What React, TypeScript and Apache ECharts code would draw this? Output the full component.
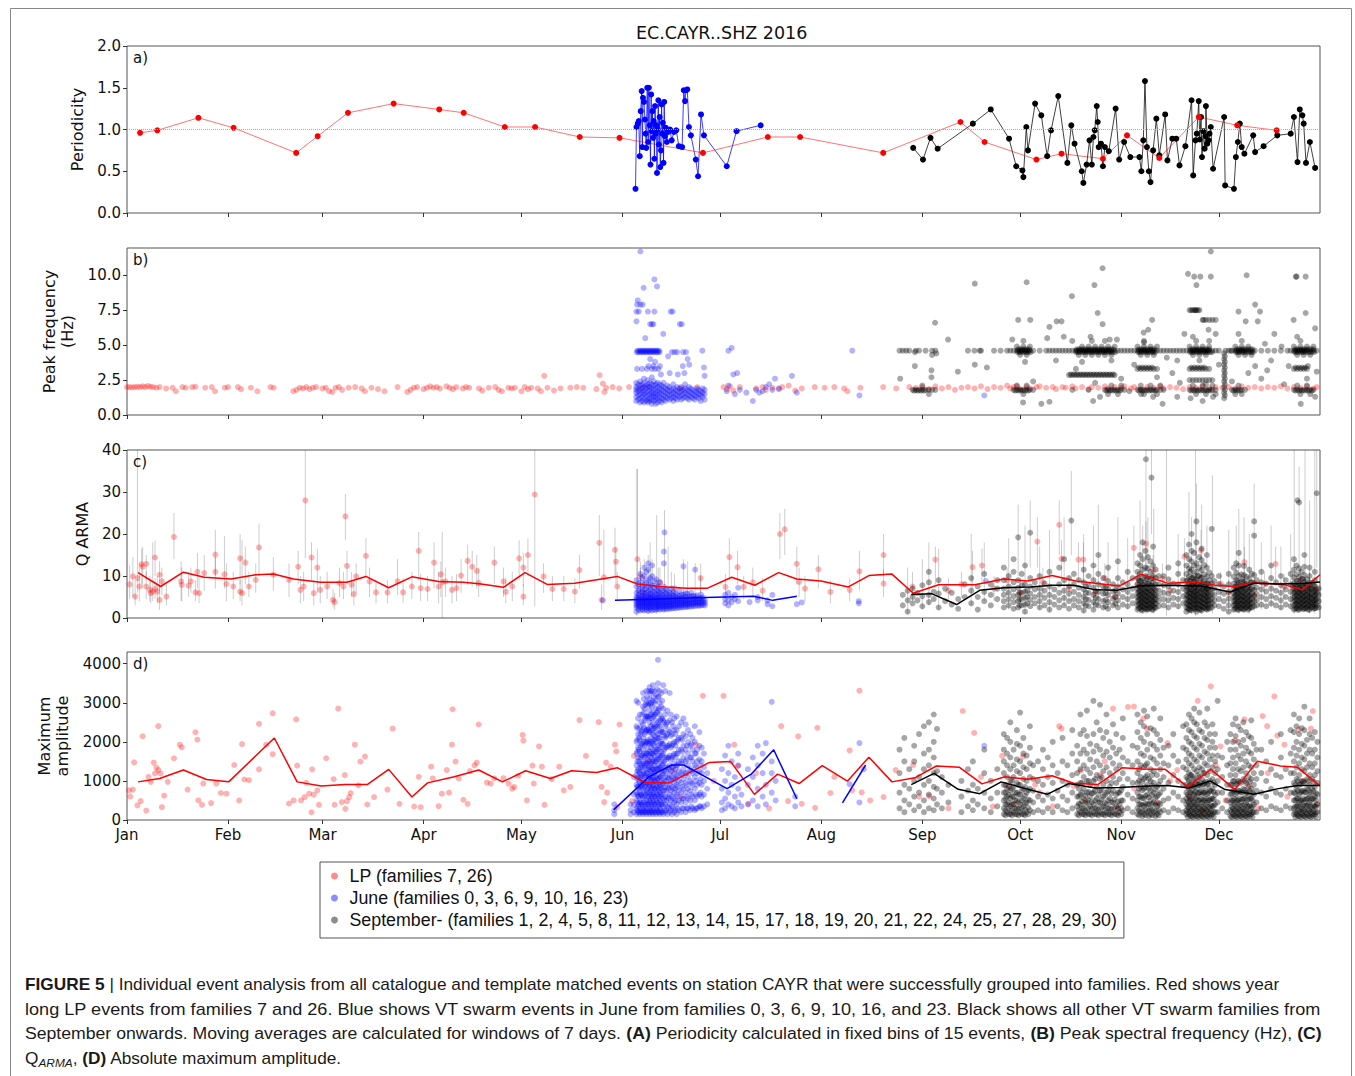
import React, { useEffect, useRef } from "react";
import * as echarts from "echarts";

// ---------- axes ----------
const MONTHS = ["Jan", "Feb", "Mar", "Apr", "May", "Jun", "Jul", "Aug", "Sep", "Oct", "Nov", "Dec"];
const DAY_TICKS = [0, 31, 60, 91, 121, 152, 182, 213, 244, 274, 305, 335];
const A_TICKS = [0, 0.5, 1, 1.5, 2];
const B_TICKS = [0, 2.5, 5, 7.5, 10];
const C_TICKS = [0, 10, 20, 30, 40];
const D_TICKS = [0, 1000, 2000, 3000, 4000];

const LP = "LP (families 7, 26)";
const JUNE = "June (families 0, 3, 6, 9, 10, 16, 23)";
const SEPT = "September- (families 1, 2, 4, 5, 8, 11, 12, 13, 14, 15, 17, 18, 19, 20, 21, 22, 24, 25, 27, 28, 29, 30)";

// ---------- panel a: periodicity ----------
const aRed = [[4.0,0.96],[9.3,0.99],[21.9,1.14],[32.7,1.02],[51.9,0.72],[58.5,0.92],[67.8,1.2],[81.8,1.31],[95.8,1.24],[103.3,1.2],[115.9,1.03],[125.2,1.03],[138.9,0.91],[151.1,0.9],[176.7,0.72],[196.6,0.91],[206.5,0.91],[232,0.72],[255.7,1.09],[263.1,0.85],[279,0.64],[286.7,0.71],[299.4,0.65],[306.8,0.93],[316.7,0.66],[328.8,1.15],[340.6,1.05],[352.7,0.99]];
const aBlue = [[156.0,0.29],[156.3,1.03],[156.7,1.07],[157.0,1.10],[157.3,0.68],[157.6,1.22],[157.9,1.46],[158.1,0.79],[158.3,1.38],[158.6,1.33],[158.9,1.12],[159.1,0.95],[159.3,0.78],[159.6,1.50],[159.9,0.85],[160.1,1.50],[160.4,1.05],[160.6,0.58],[160.8,1.42],[161.0,0.98],[161.2,1.22],[161.4,0.90],[161.6,1.10],[161.8,0.65],[162.0,1.28],[162.2,0.95],[162.4,1.05],[162.6,0.48],[162.8,1.00],[163.0,1.35],[163.2,0.82],[163.4,1.15],[163.6,0.55],[163.8,0.75],[164.0,1.30],[164.2,0.95],[164.4,1.08],[164.6,0.60],[164.8,1.33],[165.0,0.92],[165.3,1.02],[165.6,0.85],[166.0,0.97],[166.6,1.00],[167.1,0.87],[167.8,0.97],[168.5,0.99],[169.3,0.80],[170.3,0.79],[170.8,1.47],[171.2,1.34],[171.5,1.47],[171.9,1.48],[172.4,1.03],[173.0,0.93],[174.5,0.64],[175.2,0.44],[176.1,1.18],[177.0,0.93],[184.0,0.56],[187.0,0.98],[194.4,1.05]];
const aBlack = [[241.2,0.78],[244.2,0.64],[246.5,0.9],[248.7,0.77],[259.5,1.07],[265,1.24],[270.6,0.89],[272.8,0.56],[274.7,0.51],[275,0.43],[275.9,1.03],[276.4,0.75],[278.6,1.31],[280.5,1.17],[282.3,0.68],[283.5,0.99],[285.7,1.40],[288.5,0.60],[289.7,1.05],[290.7,0.83],[292.9,0.50],[293.4,0.36],[294.4,0.58],[295.3,0.87],[296,0.58],[296.5,0.91],[296.9,0.99],[297.5,1.28],[297.8,1.09],[298.1,0.79],[298.8,0.83],[299.4,0.56],[300,0.79],[301.2,0.74],[303.3,1.25],[304.4,0.64],[305.9,0.85],[307.8,0.67],[310.6,0.67],[311.2,0.5],[311.8,0.87],[312.3,1.58],[312.9,0.79],[313.5,0.5],[314,0.37],[314.8,0.75],[315.8,1.13],[316.7,0.69],[318.5,1.18],[319.2,0.63],[320.7,0.89],[321.9,0.89],[322.9,0.57],[324.7,0.8],[326.6,1.35],[327.1,0.45],[327.8,0.87],[328.2,0.95],[328.8,1.34],[329.1,0.88],[329.5,1.15],[329.8,0.67],[330.2,0.98],[330.6,0.77],[330.9,0.92],[331,1.28],[331.4,0.83],[331.8,0.87],[332.1,0.95],[332.5,1.03],[333.2,0.53],[336.6,1.15],[336.9,0.33],[339.6,0.29],[340.2,0.67],[340.8,0.85],[341.4,1.07],[342,0.79],[342.8,0.71],[345.5,0.93],[346.1,0.73],[348.7,0.8],[352.9,0.93],[357,0.95],[358,1.15],[359.1,0.61],[359.8,1.24],[360.6,1.17],[361,1.07],[361.7,0.6],[362.9,0.85],[364.5,0.54]];

// ---------- panel b: peak frequency ----------
const bRed = [[0,2.0],[0.8,2.0],[1.6,1.98],[2.4,2.0],[3.2,2.02],[4,2.0],[4.8,2.05],[5.6,2.0],[6.4,2.08],[7.2,2.02],[8,2.0],[9,1.95],[10,2.0],[12,1.9],[14,1.95],[15,1.7],[17,2.0],[18,1.95],[20,2.0],[21,2.02],[24,1.95],[26,2.0],[27,1.7],[30,1.95],[31,2.0],[34,2.0],[35,1.85],[38,1.95],[40,1.7],[44,2.0],[45,1.95],[51,1.7],[52,1.8],[53,1.95],[54,1.9],[55,2.0],[56,1.85],[57,1.95],[58,2.0],[60,1.9],[61,1.95],[62,1.7],[63,1.65],[64,1.95],[65,2.0],[66,1.8],[68,1.95],[70,2.0],[72,1.9],[73,1.7],[75,1.95],[77,1.85],[79,1.7],[83,2.0],[86,1.65],[87,1.8],[88,1.95],[89,2.0],[91,1.85],[92,1.95],[93,2.05],[94,1.95],[95,2.0],[96,1.9],[98,2.05],[99,1.95],[100,1.85],[101,2.0],[103,1.9],[104,2.0],[105,1.95],[108,1.9],[109,1.75],[111,1.95],[113,2.0],[114,1.8],[115,1.7],[117,1.95],[118,1.9],[119,1.95],[121,1.7],[122,2.0],[123,1.85],[124,1.95],[126,1.9],[127,1.7],[128,2.8],[129,1.95],[131,1.75],[133,1.9],[136,1.95],[138,2.0],[140,1.95],[144,1.85],[145,2.85],[146,2.25],[146.5,1.65],[147,1.95],[149,2.0],[151,1.9],[154,2.0],[158,1.95],[170,1.9],[175,2.0],[183,2.0],[184,1.85],[185,2.05],[186,1.75],[188,2.0],[193,1.9],[195,2.0],[196,1.8],[198,1.95],[200,1.85],[201,2.0],[203,2.1],[205,1.75],[207,1.9],[211,2.0],[214,1.95],[217,2.0],[220,1.9],[221,1.7],[225,1.95],[232,2.0],[236,1.9],[240,2.0],[242,1.95],[244,2.0],[246,1.85],[248,2.05],[250,1.9],[252,2.0],[254,1.8],[256,1.95],[258,2.0],[260,1.9],[262,2.05],[264,1.85],[266,2.0],[268,1.95],[270,2.1],[271,1.9],[272,2.0],[273,2.05],[274,1.85],[276,2.0],[277,1.9],[279,2.0],[280,2.05],[282,1.95],[284,2.0],[285,1.85],[287,2.0],[288,1.95],[290,2.05],[291,1.9],[293,2.0],[295,1.85],[296,2.0],[298,1.95],[300,2.05],[301,1.9],[303,2.0],[305,1.95],[306,2.05],[308,1.9],[309,2.0],[311,1.85],[313,2.0],[315,1.95],[317,2.05],[318,1.9],[320,2.0],[322,1.95],[324,1.85],[326,2.0],[328,1.95],[330,2.05],[332,1.9],[334,2.0],[336,1.95],[338,2.0],[340,1.9],[342,2.05],[344,1.95],[346,2.0],[348,1.9],[350,2.0],[352,1.95],[354,2.05],[356,1.9],[358,2.0],[360,1.95],[362,2.05],[364,1.9],[365,2.0]];
const bBlueCols = [[156.2,[1.0,1.3,1.6,1.8,2.0,2.3]],[156.8,[1.1,1.4,1.7,1.9,2.2]],[157.4,[0.9,1.2,1.5,1.8,2.1,2.4]],[158.0,[1.0,1.3,1.6,1.9,2.2]],[158.6,[0.9,1.2,1.5,1.7,2.0,2.3,2.6]],[159.2,[1.0,1.3,1.6,1.9,2.1]],[159.8,[0.9,1.1,1.4,1.7,2.0,2.2,2.5]],[160.4,[1.0,1.2,1.5,1.8,2.0,2.3]],[161.0,[0.8,1.1,1.4,1.6,1.9,2.2,2.7]],[161.6,[1.0,1.3,1.5,1.8,2.1,2.4]],[162.2,[0.8,1.1,1.3,1.6,1.9,2.2]],[162.8,[0.9,1.2,1.5,1.7,2.0,2.3]],[163.4,[1.0,1.3,1.6,1.9,2.2]],[164.0,[0.9,1.2,1.5,1.8,2.1]],[164.6,[1.1,1.4,1.7,2.0,2.3]],[165.2,[1.0,1.3,1.6,1.9]],[165.8,[1.2,1.5,1.8,2.1]],[166.4,[1.1,1.4,1.7,2.0]],[167.0,[1.2,1.5,1.8]],[167.6,[1.0,1.3,1.6,1.9,2.2]],[168.2,[1.2,1.5,1.8]],[168.8,[1.1,1.4,1.7,2.0]],[169.4,[1.3,1.6,1.9]],[170.0,[1.1,1.4,1.7,2.0]],[170.6,[1.2,1.5,1.8]],[171.2,[1.3,1.6,1.9,2.2]],[171.8,[1.2,1.5,1.8]],[172.4,[1.1,1.4,1.7,2.0]],[173.0,[1.3,1.6,1.9]],[173.6,[1.2,1.5,1.8]],[174.2,[1.1,1.4,1.7]],[174.8,[1.3,1.6,1.9]],[175.4,[1.2,1.5,1.8]],[176.0,[1.0,1.4,1.7]],[176.6,[1.3,1.6,1.9]],[177.2,[1.1,1.5,1.8]]];
const bBlueRows = [[4.5,[156.4,156.9,157.4,157.9,158.4,158.9,159.4,159.9,160.4,160.9,161.4,161.9,162.4,162.9,163.4,167.2,168,168.8,170.6,171.5]],[4.6,[156.6,157.2,157.7,158.2,158.7,159.2,159.7,160.2,160.7,161.2,161.7,162.2,162.7,163.2]],[3.3,[156.5,158,159.5,161,162,163]],[3.5,[160,161.5,163.5,170.5]],[6.5,[160.5,161,161.5,169.6,170.2]],[7.9,[156.5,157.5,158.2]],[7.4,[156.3,157,159.8,161.8,166.8,167.4]]];
const bBlueExtra = [[156.3,6.7],[156.7,8.2],[157.5,11.7],[158.5,9.1],[161.8,9.7],[162.6,9.2],[159,5.5],[160.5,4.0],[162,3.8],[164.5,5.8],[163.8,2.9],[166,4.2],[166.5,3.0],[172,4.0],[172.5,3.6],[171,3.0],[169,2.9],[176.5,4.6],[177,3.4],[177.2,2.8],[184.5,4.6],[185.5,4.8],[184.5,2.1],[186,2.9],[187.2,3.0],[186.5,1.5],[184,1.7],[188,1.8],[190,1.6],[192,1.0],[193,1.8],[194,1.6],[195,1.7],[196,2.0],[197,2.2],[198,1.8],[198.8,2.6],[200,1.9],[204,2.8],[205.5,1.6],[222.5,4.6],[224.7,1.4],[263,1.4]];
const bBlackRows = [[4.6,[237,238,239,240,242,243,245,247,248,258,260,262,266,268,270,271,272,273,273.5,274,274.5,275,275.5,276,276.5,277,278,280,282,283,284,285,286,287,288,289,290,291,291.5,292,292.5,293,293.5,294,294.5,295,295.5,296,296.5,297,297.5,298,298.5,299,299.5,300,300.5,301,301.5,302,303,304,305,306,307,308,309,310,310.5,311,311.5,312,312.5,313,313.5,314,314.5,315,316,317,318,319,320,321,322,323,324,325,326,326.5,327,327.5,328,328.5,329,329.5,330,330.5,331,331.5,332,333,334,335,337,338,339,340,340.5,341,341.5,342,342.5,343,344,345,346,348,350,352,354,356,357,358,358.5,359,359.5,360,360.5,361,361.5,362,363,364,365]],[4.5,[273.2,273.8,274.4,275.2,275.8,276.4,277.2,291.2,291.8,292.4,293.2,293.8,294.4,295.2,295.8,296.4,297.2,297.8,298.4,299.2,299.8,300.4,301.2,301.8,302.4,303.2,310.2,310.8,311.4,312.2,312.8,313.4,314.2,314.8,315.4,326.2,326.8,327.4,328.2,328.8,329.4,330.2,330.8,331.4,332.2,332.8,340.2,340.8,341.4,342.2,342.8,343.4,344.2,344.8,345.4,358.2,358.8,359.4,360.2,360.8,361.4,362.2,362.8,363.4,364.2]],[4.7,[273.4,274.0,274.7,275.4,276.1,276.8,291.4,292.1,292.8,293.5,294.2,294.9,295.6,296.3,297.0,297.7,298.4,299.1,299.8,300.5,301.2,301.9,302.6,310.4,311.1,311.8,312.5,313.2,313.9,314.6,315.3,326.4,327.1,327.8,328.5,329.2,329.9,330.6,331.3,332.0,340.4,341.1,341.8,342.5,343.2,343.9,344.6,345.3,358.4,359.1,359.8,360.5,361.2,361.9,362.6,363.3,364.0]],[4.3,[247,274,276,292,294,296,298,300,302,311,313,315,327,329,331,341,343,345,359,361,363]],[4.9,[273,275,277,293,295,297,299,301,303,310,312,314,316,326,328,330,332,340,342,344,358,360,362,364]],[5.3,[275,290,296,300,312,328,332,342,360]],[1.8,[241,242,243,244,245,246,247,248,272,273,274,275,276,277,278,290,295,300,301,302,303,304,305,306,310,311,312,313,314,315,316,317,318,326,327,328,329,330,331,332,333,334,339,340,341,342,343,358,359,360,361,362,363,364]],[1.75,[241.5,242.5,243.5,244.5,272.5,273.5,274.5,275.5,276.5,300.5,301.5,302.5,303.5,304.5,310.5,311.5,312.5,313.5,314.5,315.5,326.5,327.5,328.5,329.5,330.5,331.5,332.5,339.5,340.5,341.5,358.5,359.5,360.5,361.5,362.5,363.5]],[2.1,[244,273,276,302,305,311,314,317,327,330,333,341,359,362]],[1.5,[246,275,301,304,312,316,328,331,334,340,342,360,363]],[2.86,[289,290,291,292,293,294,295,296,297,298,299,300,301,302,303]],[2.9,[289.5,290.5,291.5,292.5,293.5,294.5,295.5,296.5,297.5,298.5,299.5,300.5,301.5,302.5]],[3.3,[310,311,312,313,314,315,316,326,327,328,329,330,331,332,358,359,360,361,362]],[3.4,[310.5,311.5,312.5,313.5,314.5,326.5,327.5,328.5,329.5,330.5,358.5,359.5,360.5,361.5]],[2.5,[326,327,328,329,330,331,332,333]],[7.5,[326,326.5,327,327.5,328,328.5,329]],[6.8,[330,331,332,333,334]]];
const bBlackCols = [[336.6,[1.2,1.6,2.0,2.4,2.8,3.2,3.6,4.0,4.4]],[336.8,[1.4,1.8,2.2,2.6,3.0,3.4,3.8,4.2]]];
const bBlackExtra = [[237.2,2.6],[241.7,4.5],[241.7,3.5],[247.9,6.6],[246.8,3.2],[246.8,2.7],[248.3,4.4],[251.9,5.4],[254.9,3.1],[260.1,9.4],[260.1,3.6],[261.6,4.6],[263.8,3.4],[271.6,5.4],[273.4,6.8],[276,9.5],[277.1,6.8],[274.9,0.9],[280.5,0.8],[283,0.95],[282.3,5.5],[283,6.3],[285.2,6.7],[286.7,6.7],[287.4,5.6],[289.9,8.5],[291.1,3.3],[295.6,5.6],[296.8,9.3],[297.8,7.3],[299.3,10.5],[299.3,6.5],[298.5,1.3],[296.4,1.0],[301.5,5.4],[303.7,5.4],[307.5,1.7],[313.3,6.1],[314.5,6.8],[311.9,5.9],[311.1,1.5],[314.8,1.3],[317.7,0.8],[320.7,3.0],[322.2,3.9],[322.2,1.3],[324.4,5.8],[325.5,10.1],[327.4,9.9],[328.1,9.3],[329.3,9.9],[332.5,11.7],[332.5,9.9],[327.8,7.5],[330.3,6.8],[331.8,6.1],[334,5.8],[326.3,1.2],[330,1.0],[333.2,1.3],[338.7,4.6],[341,7.4],[343.2,6.7],[343.5,10.0],[346.1,7.9],[346.9,6.7],[346.1,3.5],[347.6,7.4],[349.1,5.1],[349.8,3.2],[352,5.8],[354.2,4.9],[356.4,3.5],[357.9,6.8],[358.6,9.9],[358.8,9.9],[361.6,9.9],[361.6,7.3],[362.3,3.5],[364.5,6.2],[364.5,1.3],[360.1,0.8],[275.5,3.8],[278,2.4],[285,3.9],[293,3.8],[297,2.3],[302,3.9],[305,2.6],[309,3.6],[312,5.2],[316,2.7],[319,4.1],[323,2.3],[327,5.6],[329,3.9],[331,2.2],[335,3.6],[339,2.4],[341,5.8],[344,3.0],[348,2.6],[351,3.9],[355,2.2],[359,5.6],[362,2.6],[365,3.1]];

// ---------- panel c: Q ARMA ----------
// red: [day, Q, lower error, upper error]
const cRed = [[0.8,8.0,4.5,12.5],[1.8,9.9,5.0,14.5],[2.5,5.1,3.0,9.0],[3.2,9.5,6.0,40],[3.8,7.5,4.0,13.0],[4.5,12.8,8.0,16.5],[4.8,12.2,7.0,17.0],[5.9,12.9,9.0,15.0],[5.9,7.5,4.5,11.0],[7.0,6.7,4.0,10.0],[7.3,5.9,3.5,9.0],[7.9,6.3,4.0,18.0],[8.6,14.4,10.0,18.5],[8.6,6.9,4.5,9.5],[9.3,6.3,3.5,10.0],[10.0,4.3,2.0,8.0],[10.0,10.3,6.5,13.5],[10.7,8.7,5.5,12.0],[12.1,5.1,3.0,8.0],[14.4,19.3,14.0,25.0],[16.6,8.7,4.0,13.5],[16.8,7.9,4.0,12.0],[18.9,7.7,5.0,11.0],[19.6,8.7,6.0,12.0],[21.0,6.1,4.0,9.0],[21.6,11.0,7.0,15.5],[22.1,5.9,3.5,9.5],[23.7,10.7,6.5,15.0],[27.1,15.1,10.0,21.0],[27.1,11.0,7.0,14.5],[29.9,10.4,7.0,19.5],[30.5,8.1,4.0,13.0],[32.6,7.5,4.5,11.0],[34.7,6.3,4.0,9.0],[34.7,14.2,8.0,20.0],[35.3,5.9,3.0,18.5],[36.3,13.2,8.0,17.0],[37.4,7.5,5.0,11.0],[39.5,9.1,6.0,13.0],[40.5,16.8,10.0,22.5],[44.9,10.3,6.5,14.5],[49.7,9.1,5.0,13.0],[52.5,12.2,8.0,16.0],[53.2,6.7,3.5,10.0],[54.2,7.5,4.0,11.0],[54.7,28.0,14.2,40],[56.6,14.4,9.0,18.0],[57.3,5.9,3.0,9.0],[58.4,12.0,6.0,16.5],[59.3,6.7,3.5,10.0],[61.4,7.5,4.5,11.0],[63.2,4.3,2.5,7.0],[63.7,3.8,2.0,6.0],[65.2,8.3,5.0,12.0],[66.4,7.5,4.5,11.0],[67.0,24.2,18.5,29.5],[67.5,12.4,8.0,16.0],[68.9,7.9,5.0,11.0],[69.6,5.7,3.0,9.0],[70.3,9.9,6.0,13.0],[73.3,14.8,10.0,19.0],[74.4,8.7,5.0,12.0],[76.4,6.1,3.5,9.0],[79.9,6.1,3.5,9.0],[83.0,8.7,5.5,14.0],[84.7,6.1,3.5,9.5],[87.4,7.5,4.5,11.0],[89.5,16.0,9.0,20.5],[90.1,7.1,4.0,10.5],[92.2,6.9,4.0,10.0],[94.2,13.2,7.0,18.0],[95.6,7.5,3.5,11.0],[96.3,10.4,5.0,13.5],[96.7,8.5,0,20.5],[97.7,8.7,5.0,12.0],[99.7,6.7,3.5,10.0],[101.1,7.1,4.0,10.5],[102.5,10.1,6.0,14.0],[104.5,13.6,8.0,17.5],[105.9,12.2,7.5,16.0],[107.3,11.2,7.0,15.0],[107.9,8.3,5.0,12.0],[112.7,13.2,8.0,17.0],[115.5,8.7,5.0,12.0],[116.2,6.2,3.5,9.5],[118.2,7.5,4.0,11.0],[120.3,14.2,9.0,18.5],[121.6,12.0,7.5,15.5],[121.6,5.1,3.0,8.0],[123.0,15.0,10.0,19.0],[125.1,29.4,2.8,40],[127.8,9.9,6.0,13.0],[130.5,6.9,4.0,10.0],[134.0,6.9,4.0,10.0],[137.4,6.3,3.5,9.5],[138.8,11.4,7.0,15.0],[144.9,17.9,10.0,24.5],[145.6,4.3,2.0,8.0],[146.3,9.7,5.0,21.0],[149.7,16.2,10.0,21.5],[150.0,13.4,8.0,17.0],[150.4,7.5,4.0,11.0],[156.6,14.0,5.0,35.5],[157.5,9.9,6.0,13.5],[158.5,6.0,3.5,9.5],[163.5,8.5,5.0,12.0],[168,7.0,4.0,10.5],[176,9.5,6.0,13.0],[183.6,7.4,4.5,10.5],[184.8,14.5,9.0,19.0],[187.3,12.1,8.0,16.0],[189.2,7.4,4.5,10.0],[192,8.5,5.0,12.0],[195,6.5,4.0,9.5],[200.3,20.0,14.0,25.0],[201.8,21.1,15.0,26.0],[205.5,12.9,8.0,17.0],[206.2,8.6,5.0,12.0],[208,7.0,4.0,10.0],[212.1,11.6,7.0,15.0],[215.8,6.2,3.5,9.0],[221.7,6.7,4.0,9.5],[224.7,11.1,6.5,16.0],[232.1,15.0,10.0,20.0],[232.1,8.2,5.0,11.5],[241,7.5,4.0,11.0],[248,13.9,8.0,17.0],[252,6.5,4.0,9.5],[256,8.0,5.0,11.0],[259.4,12.1,7.0,16.0],[262.3,12.5,8.0,16.5],[266,7.0,4.0,10.0],[270,9.0,5.5,12.0],[274,6.0,3.5,9.0],[279.3,18.2,12.0,24.0],[281,8.5,5.0,12.0],[286,22.2,15.0,28.0],[286.7,14.1,9.0,18.5],[289,7.0,4.0,10.0],[291.9,13.9,9.0,18.0],[293.4,13.9,8.5,18.0],[297,6.0,3.5,9.0],[300,9.5,6.0,13.0],[303,5.0,3.0,8.0],[308.9,16.7,11.0,22.0],[310,8.0,5.0,11.0],[312.6,17.7,11.0,23.0],[314.8,11.3,7.0,15.0],[317.7,9.3,5.5,13.0],[320,6.5,4.0,9.5],[324.4,14.6,9.0,19.0],[327,8.0,5.0,11.0],[329.5,16.1,10.0,21.0],[331,7.0,4.0,10.0],[335.5,8.2,5.0,11.0],[338,6.0,3.5,9.0],[342.8,13.3,8.0,17.0],[345.8,5.4,3.0,8.0],[349,8.0,5.0,11.0],[352.4,12.9,8.0,17.0],[355,7.5,4.5,10.5],[357.6,7.4,4.5,10.5],[360,9.0,5.5,12.0],[362.8,7.8,4.5,11.0],[365,7.0,4.0,10.0]];
const cBlueCols = [[146,[4.2]],[156.3,[1.5,2.5,3.0,3.5,4.0,4.5,5.0,6.0,7.5,9.0]],[156.9,[2.0,2.8,3.3,3.8,4.3,4.8,5.5,6.5,8.0]],[157.5,[1.8,2.5,3.0,3.5,4.0,4.6,5.2,6.0,7.0,8.5,10.5]],[158.1,[2.0,2.7,3.2,3.7,4.2,4.7,5.3,6.2,7.5,9.5]],[158.7,[1.8,2.5,3.0,3.5,4.0,4.5,5.0,5.8,6.8,8.0,10.0,12.0]],[159.3,[2.0,2.6,3.1,3.6,4.1,4.6,5.2,6.0,7.0,8.5,11.0]],[159.9,[1.7,2.4,2.9,3.4,3.9,4.4,4.9,5.5,6.3,7.5,9.0,11.5,13.0]],[160.5,[2.0,2.6,3.1,3.6,4.1,4.6,5.1,5.8,6.8,8.0,9.5]],[161.1,[1.8,2.5,3.0,3.5,4.0,4.5,5.0,5.6,6.5,7.8,10.0,12.5]],[161.7,[2.0,2.7,3.2,3.7,4.2,4.7,5.3,6.2,7.2,8.8]],[162.3,[1.9,2.5,3.0,3.5,4.0,4.5,5.0,5.7,6.6,7.8,9.2]],[162.9,[2.1,2.7,3.2,3.7,4.2,4.8,5.5,6.4,7.5]],[163.5,[2.0,2.6,3.1,3.6,4.1,4.6,5.2,6.0,7.0,8.5]],[164.1,[2.2,2.8,3.3,3.8,4.3,4.9,5.6,6.5]],[164.7,[2.0,2.6,3.1,3.6,4.1,4.7,5.4,6.3,7.5,13.0,15.8]],[164.9,[20.4]],[165.3,[2.2,2.8,3.3,3.8,4.4,5.0,5.8,6.8]],[165.9,[2.1,2.7,3.2,3.7,4.2,4.8,5.5,6.5]],[166.5,[2.3,2.9,3.4,3.9,4.5,5.2,6.0]],[167.1,[2.2,2.8,3.3,3.8,4.3,4.9,5.7,7.0]],[167.7,[2.4,3.0,3.5,4.0,4.6,5.3,6.2]],[168.3,[2.3,2.9,3.4,3.9,4.4,5.0,5.8]],[168.9,[2.5,3.1,3.6,4.1,4.7,5.4]],[169.5,[2.4,3.0,3.5,4.0,4.6,5.3,6.5]],[170.1,[2.6,3.2,3.7,4.2,4.8,5.6]],[170.7,[2.5,3.1,3.6,4.1,4.7,5.5,12.3]],[171.3,[2.7,3.3,3.8,4.3,5.0,5.9]],[171.9,[2.6,3.2,3.7,4.2,4.9,5.8]],[172.5,[2.8,3.4,3.9,4.5,5.2]],[173.1,[2.7,3.3,3.8,4.4,5.1,6.0]],[173.7,[2.9,3.5,4.0,4.6,5.3]],[174.3,[2.8,3.4,3.9,4.5,5.2,11.5]],[174.9,[3.0,3.6,4.1,4.7,5.4]],[175.5,[2.9,3.5,4.0,4.6]],[176.1,[3.0,3.6,4.2,4.8,5.6]],[176.7,[3.1,3.7,4.3,4.9]],[177.3,[3.0,3.6,4.2]],[183.5,[3.5,4.5,5.5]],[184.5,[3.0,4.2,6.0]],[185.5,[3.8,5.0]],[186.5,[4.5,5.5]],[187.5,[4.0,7.2]],[191,[3.8]],[193.5,[4.2,5.0]],[196.5,[3.3,4.2]],[198,[2.8,5.5]],[205.5,[3.3]],[207,[3.7]],[224.5,[3.5,4.0]],[263.5,[8.8]]];
const cBlueBars = [[156.4,0.5,35.5],[157.5,1.5,12],[158.7,1.5,14],[159.9,1,15],[160.5,2,18],[161.1,2,14],[162.5,1,24.5],[163,2,12],[164.9,1.5,25.7],[166,2,17],[167,2,11],[170.7,3,14],[172,2,13.5],[174.3,3,13],[176,2.5,10]];
const cBlackCols = [[238,[3.0,5.5]],[239.5,[1.5,4.2,6.5]],[241,[3.5,5.0,7.0]],[242.5,[4.2,6.0]],[244,[2.8,5.2,7.8]],[246,[3.8,5.5,8.5,11]],[247.5,[4.5,6.2]],[249,[2.5,5.8,9.0]],[251,[4.0,7.0]],[253,[3.2,6.0]],[255,[2.2,4.5]],[257,[5.0,8.0]],[259,[3.5,6.5,9.5]],[261,[2.0,5.0,7.5]],[263,[4.0,6.2,10.5]],[265,[3.0,5.5,8.0]],[267,[4.5,7.0,9.0]],[269,[2.5,4.0,5.5,7.0,9.0,12.0]],[270.5,[3.0,4.5,6.0,7.5,10.0]],[272,[2.2,3.8,5.2,6.8,8.5,11.0,14.0]],[273.4,[2.5,4.0,5.5,7.2,9.0,19.2]],[274.5,[3.0,4.5,6.0,7.8,10.5]],[275.5,[1.5,3.2,4.8,6.3,8.0,12.5]],[277.1,[2.8,4.3,5.8,7.5,9.5,20.3]],[278.5,[3.5,5.0,6.8,8.5]],[280,[2.5,4.0,5.5,7.0,10.0]],[281.5,[3.0,4.8,6.5,8.2]],[283,[2.0,3.8,5.5,7.5,11.0]],[284.5,[3.2,5.0,6.8]],[286,[2.5,4.2,6.0,8.0,12.0]],[287.5,[3.0,4.8,6.5,9.0,14.0]],[289,[2.2,4.0,5.8,7.5,9.5]],[289.7,[23.2]],[290.5,[3.0,4.5,6.2,8.0,10.5]],[292,[2.5,4.0,5.5,7.2,9.0]],[293.5,[1.8,3.5,5.0,6.8,8.5,11.5]],[295,[2.8,4.3,6.0,7.8,10.0]],[296.5,[2.0,3.8,5.5,7.2,9.0,12.5]],[298,[3.0,4.5,6.2,8.0,10.5,15.0]],[299.5,[2.5,4.0,5.8,7.5,9.5]],[301,[2.2,3.8,5.5,7.0,8.8,12.0]],[302.5,[3.0,4.6,6.3,8.0]],[304,[2.5,4.2,5.8,7.5,9.5,13.5]],[305.5,[3.2,5.0,6.8,8.5]],[307,[2.8,4.5,6.2,8.0,11.0]],[308.5,[3.5,5.2,7.0,9.5]],[310,[2.0,3.0,4.0,5.0,6.0,7.0,8.0,9.5,11.0,13.0]],[310.8,[2.5,3.5,4.5,5.5,6.5,7.5,8.8,10.5,12.5,15.0]],[311.6,[1.8,2.8,3.8,4.8,5.8,6.8,8.0,9.5,11.5,14.0,18.0]],[312.4,[2.2,3.2,4.2,5.2,6.2,7.2,8.5,10.0,12.0,16.0]],[312.6,[37.8]],[313.2,[2.0,3.0,4.0,5.0,6.0,7.0,8.2,9.8,11.8,14.5]],[314,[2.5,3.5,4.5,5.5,6.5,7.8,9.2,11.0,13.5]],[314.3,[33.4]],[314.8,[2.0,3.0,4.0,5.0,6.0,7.2,8.5,10.0,12.5,17.0]],[315.6,[2.4,3.4,4.4,5.4,6.6,8.0,9.5,11.5]],[316.5,[2.8,4.0,5.2,6.5,8.0,10.0]],[318,[3.0,4.5,6.0,7.8,10.0]],[319.5,[2.5,4.2,5.8,7.5,9.2,12.0]],[321,[3.2,4.8,6.5,8.2]],[322.5,[2.8,4.5,6.2,8.0,10.5,13.0]],[324,[3.5,5.2,7.0,9.0]],[325,[1.5,2.5,3.5,4.5,5.5,6.5,7.5,8.8,10.5,12.5,15.0]],[325.8,[2.0,3.0,4.0,5.0,6.0,7.0,8.2,9.8,11.8,14.0,17.5]],[326.6,[1.8,2.8,3.8,4.8,5.8,6.8,8.0,9.5,11.5,13.5,16.0,20.0]],[327.4,[2.2,3.2,4.2,5.2,6.2,7.3,8.6,10.2,12.5,15.5]],[328.1,[1.5,2.5,3.5,4.5,5.5,6.5,7.6,9.0,11.0,13.0,18.0,23.0]],[328.9,[2.0,3.0,4.0,5.0,6.0,7.1,8.4,10.0,12.0,14.5]],[329.7,[1.8,2.8,3.8,4.8,5.8,6.9,8.1,9.6,11.4,13.8,16.5]],[330.5,[2.4,3.4,4.4,5.4,6.4,7.5,8.8,10.4,12.6]],[331.3,[2.0,3.0,4.0,5.0,6.0,7.0,8.2,9.8,12.0,15.0]],[332.1,[2.2,3.2,4.2,5.2,6.3,7.5,9.0,10.8]],[332.8,[2.5,3.5,4.5,5.6,6.8,8.2,10.0,21.2]],[333.6,[3.0,4.2,5.5,7.0,8.8]],[335,[2.8,4.5,6.2,8.0,10.0]],[336.5,[2.2,4.0,5.8,7.5]],[338,[1.5,3.0,4.6,6.2,8.0,10.5]],[339.5,[2.0,3.0,4.0,5.0,6.0,7.0,8.2,9.8,12.0]],[340.3,[2.5,3.5,4.5,5.5,6.5,7.6,9.0,10.8,13.0]],[341.1,[2.0,3.0,4.0,5.0,6.0,7.0,8.3,10.0,12.5,15.5]],[341.9,[2.3,3.3,4.3,5.3,6.3,7.4,8.7,10.4]],[342.7,[2.0,3.0,4.0,5.0,6.1,7.3,8.6,10.2,12.4]],[343.5,[2.6,3.6,4.6,5.7,6.9,8.2,9.8]],[344.3,[2.2,3.2,4.2,5.3,6.5,7.8,9.4,11.5]],[345.1,[2.5,3.5,4.6,5.8,7.0,8.5,10.5]],[345.8,[2.8,4.0,5.3,6.7,8.3,10.2,19.6,23.0]],[346.6,[3.0,4.3,5.7,7.2,9.0]],[348,[3.2,5.0,6.8,8.5,11.0]],[349.5,[2.8,4.5,6.3,8.2]],[351,[3.5,5.2,7.0,9.5,12.5]],[352.5,[3.0,4.8,6.5,8.5]],[354,[2.5,4.2,6.0,7.8,10.0]],[355.5,[3.2,5.0,6.8,9.0]],[357,[2.8,4.5,6.2,8.0,10.5]],[358,[2.0,3.0,4.0,5.0,6.0,7.0,8.2,9.6,11.5,14.0]],[358.8,[2.4,3.4,4.4,5.4,6.4,7.5,8.8,10.4,12.5]],[359.1,[28.0]],[359.6,[2.0,3.0,4.0,5.0,6.0,7.0,8.2,9.8,11.8,27.5]],[360.4,[2.6,3.6,4.6,5.6,6.7,7.9,9.3,11.0]],[361.2,[2.2,3.2,4.2,5.2,6.2,7.3,8.6,10.2,12.2,15.0]],[362,[2.5,3.5,4.5,5.5,6.6,7.8,9.2]],[362.8,[2.0,3.0,4.0,5.0,6.0,7.1,8.4,10.0,12.0]],[363.6,[2.7,3.7,4.7,5.8,7.0,8.4]],[364.4,[2.3,3.3,4.3,5.3,6.4,7.6,9.0,11.0]],[365,[29.7,3.0,4.5,6.0]],[365.6,[2.5,4.0,5.5,7.0]]];
const cBlackCore = [[310.4,[2.3,3.3,4.3,5.3,6.3,7.5,9.0]],[311.2,[2.0,3.0,4.0,5.1,6.2,7.4,8.8]],[312.0,[2.4,3.4,4.4,5.4,6.5,7.8]],[312.8,[2.1,3.1,4.1,5.1,6.2,7.4,9.2]],[313.6,[2.3,3.3,4.3,5.4,6.6,8.0]],[314.4,[2.0,3.0,4.1,5.2,6.4,7.7,9.5]],[315.2,[2.5,3.5,4.5,5.6,6.9]],[325.4,[2.2,3.2,4.2,5.2,6.3,7.5,9.0]],[326.2,[2.0,3.0,4.0,5.1,6.2,7.4,8.8,11.0]],[327.0,[2.4,3.4,4.4,5.4,6.5,7.8,9.5]],[327.8,[2.1,3.1,4.1,5.1,6.2,7.4,9.2]],[328.6,[2.3,3.3,4.3,5.4,6.6,8.0,10.0]],[329.4,[2.0,3.0,4.1,5.2,6.4,7.7,9.5]],[330.2,[2.5,3.5,4.5,5.6,6.9,8.4]],[331.0,[2.2,3.2,4.2,5.3,6.5,7.8]],[331.8,[2.4,3.4,4.4,5.5,6.7,8.1]],[339.9,[2.2,3.2,4.2,5.2,6.3,7.5]],[340.7,[2.0,3.0,4.0,5.1,6.2,7.4,8.8]],[341.5,[2.4,3.4,4.4,5.4,6.5,7.8]],[342.3,[2.1,3.1,4.1,5.1,6.2,7.4,9.2]],[343.1,[2.3,3.3,4.3,5.4,6.6,8.0]],[343.9,[2.0,3.0,4.1,5.2,6.4,7.7]],[344.7,[2.5,3.5,4.5,5.6,6.9,8.4]],[358.4,[2.2,3.2,4.2,5.2,6.3,7.5]],[359.2,[2.0,3.0,4.0,5.1,6.2,7.4,8.8]],[360.0,[2.4,3.4,4.4,5.4,6.5,7.8]],[360.8,[2.1,3.1,4.1,5.1,6.2,7.4,9.2]],[361.6,[2.3,3.3,4.3,5.4,6.6,8.0]],[362.4,[2.0,3.0,4.1,5.2,6.4,7.7]],[363.2,[2.5,3.5,4.5,5.6,6.9]],[364.0,[2.2,3.2,4.2,5.3,6.5,7.8]],[364.8,[2.4,3.4,4.4,5.5,6.7]],[273.8,[3.0,4.5,6.0]],[276.2,[3.5,5.0,6.5]],[294.2,[3.0,4.5,6.0,7.5]],[297.2,[3.2,4.8,6.4]],[300.2,[2.8,4.3,5.9,7.4]],[303.2,[3.4,5.0,6.6]]];
const cBlackBars = [[239.5,1.0,12.0],[244,2.0,14.0],[246,3.0,18.0],[249,2.0,16.5],[259,3.0,20.0],[263,4.0,18.0],[270.5,2.0,19.0],[273.4,10.0,27.0],[275.5,1.0,22.0],[277.1,12.0,28.0],[280,2.0,17.0],[283,1.5,21.0],[287.5,3.0,24.0],[289.7,15.0,35.0],[293.5,1.0,20.0],[296.5,2.0,22.0],[298,3.0,27.0],[301,2.0,18.0],[304,2.5,24.0],[307,2.0,19.0],[310.8,1.0,28.0],[311.6,1.0,22.0],[312.6,1.0,40.0],[313.2,1.5,24.0],[314.3,20.0,40.0],[315,1.0,26.0],[318.9,0.5,40.0],[322.5,2.0,20.0],[325.8,1.0,30.0],[326.6,1.0,24.0],[327.8,0.5,40.0],[328.1,5.0,32.0],[329.7,1.0,27.0],[331.3,1.5,22.0],[333,1.0,34.0],[338,1.0,21.0],[340.3,1.5,22.0],[341.1,1.0,26.0],[342.7,2.0,24.0],[344.3,1.0,20.0],[345.8,1.5,32.0],[348,2.0,18.0],[351,2.5,22.0],[354,2.0,17.0],[357,2.0,20.0],[358.1,1.0,40.0],[359.6,10.0,36.0],[361.4,1.5,40.0],[362.8,1.0,28.0],[364.4,1.0,40.0],[365,12.0,40.0]];
const cRedMA = [[3.4,10.8],[10.3,7.5],[17.3,10.9],[23.7,9.7],[31.9,9.3],[39.5,10.3],[44.9,10.5],[51.1,9.3],[59.3,8.5],[67.5,8.5],[73.3,9.9],[80.3,7.2],[87.4,9.8],[95.6,8.7],[103.2,8.5],[108.6,8.1],[115.5,7.3],[122.1,10.8],[128.9,8.0],[137.4,8.3],[150.4,9.9],[156.6,8.1],[163.4,7.5],[171.5,7.1],[178.1,7.1],[185.5,9.7],[192.6,7.8],[199.9,10.8],[205.5,9.3],[212.9,8.8],[221.3,7.4],[227.6,10.1],[234.6,10.5],[241.2,5.9],[249,7.9],[260.1,7.9],[269,9.3],[276.4,8.8],[283.8,10.1],[291.1,8.8],[297.1,8.3],[304.4,7.6],[311.1,10.4],[319.2,8.3],[328.1,8.6],[334,7.8],[339.9,7.5],[345.8,8.4],[354.7,8.0],[360.6,6.7],[366,10.3]];
const cBlueMA = [[149.7,4.2],[158.2,4.4],[174.5,4.8],[192.2,5.2],[198.1,4.2],[205.5,5.2]];
const cBlackMA = [[240.6,5.6],[246.8,5.8],[254.5,3.2],[261.6,6.6],[269,7.2],[277.1,7.4],[283.8,7.8],[290.4,7.8],[297.1,6.7],[303.7,6.6],[311.1,7.7],[319.2,7.8],[329.5,7.6],[338.4,6.2],[345.8,8.3],[353.2,8.1],[360.6,8.2],[366,8.6]];

// ---------- panel d: maximum amplitude ----------
const dRed = [[0.6,760],[1,600],[1.8,778],[2.2,1477],[3.2,372],[4.2,484],[4.8,2142],[5.9,242],[6.6,1106],[7.3,976],[8.2,1469],[8.6,1192],[9,1339],[9.6,2402],[9.6,1279],[10.3,1192],[10.7,328],[11.4,622],[12.5,976],[14.4,1581],[16.2,1927],[16.8,1857],[18.6,778],[21,2246],[21.6,2056],[21.9,501],[23,389],[23.4,933],[25.8,432],[27.4,933],[28.8,691],[30.5,674],[32.9,1408],[34.4,501],[35.3,1944],[36,1037],[37.4,1019],[40.5,2462],[40.5,1296],[42.7,1927],[44.7,2730],[44.7,1685],[49.7,423],[51.1,501],[51.9,2575],[52.2,1391],[53.4,501],[54.5,587],[55,950],[55.9,674],[56.6,199],[56.8,1296],[57.3,648],[58.4,760],[58.9,389],[61.1,1581],[63.4,1045],[63.7,389],[64.8,2851],[65.9,458],[66.8,1149],[67,285],[67.5,484],[68.2,587],[68.6,691],[69.9,1927],[71,890],[71.6,1495],[73,1624],[73.7,397],[75.8,587],[79.9,778],[81.5,2341],[83.6,415],[88.1,346],[89.5,1106],[90.1,328],[93.3,1365],[93.8,1063],[95.6,354],[96.6,674],[98.1,1279],[98.8,700],[99.7,1927],[99.9,2834],[100.8,1495],[101.8,1063],[103.2,518],[104.5,415],[105.2,1253],[106.6,1400],[107.3,1469],[107.9,2445],[110.4,959],[111.6,933],[112.7,1063],[115.5,1071],[117.1,933],[118.2,803],[118.8,847],[120,1132],[121.4,2177],[121.6,2030],[122.7,501],[124.4,1391],[124.8,933],[126.4,1883],[127.3,1365],[128.1,389],[130.3,1045],[132.6,1365],[134,760],[136,847],[138.8,2557],[140.8,1641],[144.7,2505],[145.6,847],[146.4,458],[147,1469],[147.3,700],[148.4,1365],[149.7,1927],[150.1,1754],[150.4,328],[151.1,2445],[155,484],[155.5,1641],[160,1500],[167.4,1261],[170,600],[174.5,1927],[176.7,3179],[180,1000],[183,3179],[186.3,1927],[187.5,1382],[190.7,415],[193,1200],[197,300],[200.7,2402],[202.8,484],[205.9,2142],[207,415],[211.1,311],[211.8,2359],[215.8,691],[217,1100],[221.7,1780],[222.5,760],[224.7,3309],[225.4,708],[228,500],[232.1,587],[235.8,1279],[241.2,1408],[243,600],[246.1,613],[252,300],[256.4,2790],[259.9,2229],[262,1100],[265.6,346],[268.5,1641],[270.5,890],[272,400],[274.9,1624],[278.6,907],[280,700],[284,350],[286,2402],[286.7,2341],[290.4,864],[292.6,1261],[294,500],[298.5,1149],[300,1500],[302.5,2851],[304,300],[307.1,2894],[308.9,2903],[309,800],[311.8,2600],[312.9,2341],[316,450],[319.2,1970],[320,1000],[322.2,1279],[326,600],[328.5,3050],[330,250],[332.5,3421],[334,1400],[335.5,1883],[337,500],[339.9,2030],[342.8,2575],[344,900],[347,300],[348.4,2661],[349.8,2402],[350,1200],[352,3162],[352.9,2160],[355.1,1927],[356,600],[359.4,2315],[361,1000],[363.2,2341],[363.8,2790],[365,400]];
const dBlueCols = [[149.5,[150,250,400]],[154.5,[150,250,400]],[155.5,[200,380,650,1100]],[156.3,[150,300,500,700,900,1150,1400,1700,2000,2400,3050]],[156.8,[200,350,600,850,1100,1300,1600,1850,2200,2600,3000]],[157.3,[150,300,450,700,950,1200,1450,1750,2050,2350,2700]],[157.8,[200,400,650,900,1150,1400,1650,1950,2250,2500]],[158.3,[150,300,550,800,1000,1250,1500,1800,2100,2450,2900,3250]],[158.8,[200,350,600,850,1100,1350,1600,1900,2200,2550,2850]],[159.3,[150,300,500,750,950,1200,1450,1700,2000,2300,2650,3000,3300]],[159.8,[200,400,600,800,1050,1300,1550,1800,2050,2350,2650,2950]],[160.3,[150,300,500,700,900,1100,1300,1500,1750,2000,2250,2500,2800,3100,3400]],[160.8,[200,350,550,750,950,1150,1350,1600,1850,2100,2400,2700,3000,3300]],[161.3,[150,300,500,700,900,1100,1300,1500,1700,1950,2200,2450,2750,3050,3450]],[161.8,[200,400,600,800,1000,1200,1400,1650,1900,2150,2400,2700,3000,3300]],[162.3,[150,300,500,700,900,1100,1300,1500,1750,2000,2250,2550,2850,3200]],[162.9,[200,350,550,750,950,1150,1400,1650,1900,2200,2500,2800,3150,3500,4100]],[163.4,[150,300,500,700,900,1100,1350,1600,1850,2100,2400,2700,3000,3300]],[163.9,[200,400,600,800,1000,1250,1500,1750,2000,2300,2600,2900,3250]],[164.5,[150,350,550,750,950,1200,1450,1700,1950,2250,2550,2850,3450]],[165.1,[200,400,600,850,1100,1350,1600,1850,2100,2400,2700,3300]],[165.8,[150,350,600,850,1100,1350,1600,1900,2200,2500,2800]],[166.5,[200,400,650,900,1150,1400,1650,1950,2250,2550,3250]],[167.2,[150,350,600,850,1100,1350,1600,1900,2200,2500]],[167.9,[200,450,700,950,1200,1450,1700,2000,2300,2600]],[168.6,[150,400,650,900,1150,1400,1700,2000,2300,2650]],[169.3,[250,500,750,1000,1250,1500,1800,2100,2400]],[170.0,[200,450,700,950,1200,1500,1800,2100,2500]],[170.7,[300,550,800,1050,1300,1600,1900,2200,2600]],[171.4,[200,450,700,950,1200,1500,1800,2150,2450]],[172.1,[300,550,800,1100,1400,1700,2000,2300]],[172.8,[250,500,750,1000,1300,1600,1900,2200]],[173.5,[300,600,900,1200,1500,1800,2100]],[174.2,[250,500,800,1100,1400,1700,2000,2400]],[174.9,[300,600,900,1200,1500,1800]],[175.6,[350,650,950,1250,1550,1900,2250]],[176.3,[300,600,900,1200,1500,1850]],[177.0,[350,650,1000,1350,1700]],[178.0,[400,800,1200]],[182.5,[250,450,800,1300]],[183.5,[300,550,1000,1650]],[184.5,[400,700,1200,1900]],[185.5,[350,900,1500]],[186.5,[300,600,1100]],[187.5,[450,800,1400,1700]],[188.5,[350,650]],[190.5,[400,900,1300]],[192.0,[500,1100,1600]],[193.5,[350,800,1400,1900]],[195.0,[600,1200,1700]],[196.0,[400,900,1970]],[197.8,[700,1200,1500,3024]],[199.0,[500,1000]],[205.0,[350,600]],[221.7,[916]],[224.7,[450,1970]],[226,[1300]],[263,[1900]]];
const dBlueCore = [[156.55,[250,450,650,850,1050,1250,1500,1750,2050,2350]],[157.05,[200,400,600,800,1000,1250,1500,1800,2100]],[157.55,[250,450,650,850,1100,1350,1600,1900,2200]],[158.05,[200,400,600,850,1100,1350,1650,1950,2300,2700]],[158.55,[250,450,700,950,1200,1450,1700,2000,2350,2750,3100]],[159.05,[200,400,650,900,1150,1400,1650,1950,2250,2600,2950]],[159.55,[250,450,700,950,1200,1450,1700,2000,2300,2650,3150]],[160.05,[200,400,600,850,1100,1350,1650,1950,2300,2650,3000,3300]],[160.55,[250,450,650,850,1050,1250,1450,1700,1950,2250,2600,2950,3250]],[161.05,[200,400,600,800,1000,1200,1450,1700,2000,2300,2600,2900,3300]],[161.55,[250,450,650,850,1050,1300,1550,1800,2050,2350,2650,3150]],[162.05,[200,400,600,800,1000,1250,1500,1750,2050,2350,2700,3050]],[162.6,[250,450,650,850,1050,1300,1550,1800,2100,2400,2750,3350]],[163.15,[200,400,600,800,1050,1300,1550,1800,2100,2450,2850,3150]],[163.65,[250,450,650,850,1100,1350,1650,1950,2250,2550]],[164.2,[200,400,650,900,1150,1400,1650,1950,2250,2600,3050]],[164.8,[250,500,750,1000,1250,1500,1800,2150,2500]],[165.45,[250,500,750,1000,1250,1550,1850,2150,2450]],[166.15,[300,550,800,1050,1300,1600,1900,2300]],[166.85,[250,500,750,1000,1250,1550,1850,2150,2700]],[167.55,[300,550,800,1050,1350,1650,1950,2400]],[168.25,[250,500,800,1050,1300,1600,1900,2200]],[168.95,[300,600,850,1100,1400,1700,2050]],[170.35,[300,550,850,1150,1450,1750,2050]],[171.75,[300,600,900,1200,1550,1900]],[173.15,[350,650,950,1250,1600,1950]],[174.55,[300,650,1000,1350,1700]],[175.95,[350,700,1050,1400]]];
const dBlackCols = [[237,[300,700,1200,1800]],[238.5,[200,500,900,1500,2100]],[240,[400,800,1300]],[241.5,[250,600,1000,1500,1900]],[243,[350,700,1100,2200]],[244.5,[200,500,900,1300,1700,2400]],[246,[300,650,1000,1400,1800,2500]],[247.5,[250,550,850,1200,1600,2000,2700]],[248.5,[400,800,1250,2330]],[250,[300,700,1100]],[252,[450,900]],[256,[200,600,1000]],[258,[350,750,1300]],[259.5,[250,500,900,1500]],[261,[400,800]],[263,[300,700,1200,1800]],[265,[200,550,1000]],[267,[350,700,1300]],[269,[150,300,500,700,900,1200,1500,1800,2200]],[270,[200,400,600,800,1100,1400,1700,2100]],[271,[150,350,550,750,1000,1300,1600,2000,2500]],[272,[200,400,600,850,1100,1400,1800]],[273,[150,300,500,700,950,1250,1550,1950,2300]],[274,[200,400,650,900,1200,1500,1900,2750]],[275,[150,350,550,800,1050,1350,1700,2100]],[276,[200,450,700,1000,1300,1650]],[277,[250,500,800,1100,1450,1850,2400]],[278,[200,450,750,1050,1400]],[279.5,[250,600,1000,1500]],[281,[200,500,900,1300,1800]],[282.5,[300,650,1100,1600]],[284,[200,550,950,1400,2000]],[285.5,[350,750,1200]],[287,[250,600,1000,1500,2100]],[288.5,[200,500,900,1400]],[290,[300,700,1150,1700,2300]],[291.5,[150,350,600,900,1200,1500,1900]],[292.5,[200,400,650,950,1300,1700,2200,2700]],[293.5,[150,300,550,800,1100,1400,1800,2300]],[294.5,[200,450,700,1000,1300,1700,2150,2800]],[295.5,[150,350,600,900,1200,1550,1950]],[296.5,[200,400,700,1000,1350,1750,2200,3050]],[297.5,[150,300,550,850,1150,1500,1900,2500]],[298.5,[200,450,750,1050,1400,1800,2300,2950]],[299.5,[150,350,600,900,1250,1650,2100]],[300.5,[200,400,700,1000,1350,1750,2250,2700]],[301.5,[150,300,550,850,1200,1600,2000]],[302.5,[200,450,750,1100,1450,1850,2450]],[303.5,[150,350,650,950,1300,1700,2200]],[304.5,[200,400,700,1050,1400,1800]],[305.5,[250,500,850,1200,1600,2100,2600]],[307,[300,650,1050,1500]],[308.5,[200,550,950,1400,1900]],[310,[150,300,500,700,950,1200,1500,1850,2250,2700]],[311,[200,400,600,850,1100,1400,1700,2100,2500]],[312,[150,350,550,800,1050,1350,1650,2000,2400,2800]],[313,[200,400,650,900,1150,1450,1800,2200,2650]],[314,[150,300,500,750,1000,1300,1600,1950,2350]],[315,[200,450,700,950,1250,1550,1900,2300,2850]],[316,[150,350,600,850,1150,1450,1800,2200]],[317,[200,400,700,1000,1300,1650,2050,2600]],[318,[250,500,800,1100,1450,1850]],[319.5,[200,550,950,1400,1900]],[321,[300,700,1150,1650,2200]],[322.5,[250,600,1000,1500]],[324,[200,500,900,1350,1850,2400]],[325,[150,250,400,550,700,900,1100,1300,1550,1800,2100,2450]],[325.8,[150,300,450,600,800,1000,1200,1450,1700,2000,2300,2700]],[326.6,[100,250,400,550,750,950,1150,1400,1650,1950,2250,2600]],[327.4,[150,300,450,650,850,1050,1300,1550,1850,2150,2500,2850]],[328.2,[100,250,400,600,800,1000,1250,1500,1800,2100,2450]],[329,[150,300,500,700,900,1100,1350,1650,1950,2300,2750]],[329.8,[100,250,450,650,850,1050,1300,1600,1900,2250]],[330.6,[150,300,500,700,950,1200,1450,1750,2100,2500]],[331.4,[100,250,450,650,900,1150,1400,1700,2050,2400,2850]],[332.2,[150,300,500,750,1000,1250,1550,1850,2200]],[333,[150,350,550,800,1050,1350,1650,2000,2450]],[333.8,[200,400,650,900,1200,1500,1850,2200]],[334.6,[200,450,700,1000,1300,1650,3050]],[336,[300,700,1100,1600]],[337.5,[200,500,900,1400,2000]],[338.5,[100,250,450,650,900,1150,1450,1800,2200]],[339.3,[150,300,500,750,1000,1300,1600,2000,2450]],[340.1,[100,250,450,650,900,1150,1450,1800,2150,2600]],[340.9,[150,300,500,750,1000,1300,1650,2000,2400]],[341.7,[100,250,450,700,950,1250,1550,1900,2300]],[342.5,[150,300,550,800,1050,1350,1700,2050,2500]],[343.3,[100,250,450,700,950,1200,1500,1850,2250]],[344.1,[150,350,600,850,1100,1400,1750,2150]],[344.9,[150,300,550,800,1050,1350,1700,2100,2550]],[345.7,[200,400,650,900,1200,1550,1950]],[346.5,[200,450,750,1050,1400,1800]],[348,[300,700,1200,1800]],[349.5,[250,600,1000,1500]],[351,[350,800,1300,2000]],[352.5,[300,700,1150]],[354,[250,650,1100,1600,2200]],[355.5,[350,800,1300]],[357,[300,700,1200,1700,2300]],[358,[150,300,500,700,950,1200,1500,1850,2250,2700]],[358.8,[150,350,550,800,1050,1350,1650,2000,2400]],[359.6,[100,250,450,650,900,1150,1450,1800,2200,2600]],[360.4,[150,300,500,750,1000,1300,1600,1950,2350]],[361.2,[100,250,450,700,950,1250,1550,1900,2300,2900]],[362,[150,350,550,800,1050,1350,1700,2050]],[362.8,[100,250,450,650,900,1150,1450,1800,2200,2600]],[363.6,[150,300,550,800,1050,1350,1700,2100]],[364.4,[150,350,600,850,1150,1450,1800,2250]],[365.2,[200,400,650,950,1250,1600,2000]]];
const dBlackCore = [[269.5,[120,250,400,550,700,900]],[270.5,[150,300,450,650,850]],[271.5,[120,250,400,600,800,1000]],[272.5,[150,300,500,700]],[273.5,[120,280,450,650,900]],[274.5,[150,300,500,750]],[275.5,[120,260,420,620,850]],[276.5,[150,320,520,760]],[292,[120,260,420,600,800]],[293,[150,300,480,700,950]],[294,[120,250,420,620]],[295,[150,300,500,720,1000]],[296,[120,280,460,680]],[297,[150,300,500,750,1050]],[298,[120,260,440,650]],[299,[150,320,520,760,1100]],[300,[120,260,430,640]],[301,[150,300,500,740]],[302,[120,270,450,680,950]],[303,[150,320,520]],[304,[120,280,470,700]],[305,[150,300,500,760]],[310.5,[120,250,400,600,800,1000,1300]],[311.5,[100,230,380,560,760,980]],[312.5,[120,260,420,620,840,1100,1400]],[313.5,[100,240,400,580,800,1050]],[314.5,[120,260,420,640,880,1150]],[315.5,[100,230,390,570,780]],[316.5,[120,260,430,650,900]],[325.4,[80,200,330,480,650,850,1050]],[326.2,[100,220,360,520,700,900,1150]],[327,[80,200,340,500,680,880,1100]],[327.8,[100,230,380,540,720,950]],[328.6,[80,200,340,500,680,900,1150]],[329.4,[100,220,370,530,720,950]],[330.2,[80,210,350,510,700,920,1200]],[331,[100,230,380,550,750,980]],[331.8,[80,200,340,500,690,900]],[332.6,[100,220,370,540,740]],[333.4,[80,210,360,530,720,960]],[338.9,[80,200,340,500,680,900]],[339.7,[100,230,380,550,750,1000]],[340.5,[80,200,340,500,700,920]],[341.3,[100,220,370,540,740,980]],[342.1,[80,210,360,520,710]],[342.9,[100,230,380,560,770,1000]],[343.7,[80,200,350,510,700]],[344.5,[100,220,370,540,740,980]],[345.3,[80,200,340,500,690]],[358.4,[80,200,340,500,680,900]],[359.2,[100,230,380,550,750,1000]],[360,[80,200,340,500,700,920]],[360.8,[100,220,370,540,740,980]],[361.6,[80,210,360,520,710]],[362.4,[100,230,380,560,770,1000]],[363.2,[80,200,350,510,700]],[364,[100,220,370,540,740,980]],[364.8,[80,200,340,500,690]]];
const dRedMA = [[3.4,976],[10,1063],[17.3,1279],[24.4,1037],[31.2,976],[45.2,2099],[52.2,976],[59.6,873],[66.8,907],[73.7,907],[80.3,1296],[87.4,587],[92.2,950],[100.4,1106],[107.9,1279],[115.2,976],[122.3,1261],[129.9,1063],[136.4,1261],[144,1218],[150.4,1339],[158.9,959],[166.3,950],[178.6,1469],[185.2,1495],[192.5,657],[199.6,1175],[206.2,933],[213.3,1391],[221,994],[227.6,1607],[234.7,976],[241.7,1080],[248.3,1382],[255.4,1348],[262.3,924],[269.3,1106],[276.4,1045],[283.8,1132],[290.4,942],[297.8,907],[305.4,1339],[311.5,1305],[318.5,1296],[325.4,847],[332.5,1296],[339.9,778],[346.8,1503],[353.9,1382],[359.1,1348],[366,873]];
const dBlueMA1 = [[149.3,259],[160.1,1106],[167.1,1408],[170.8,1408],[184.1,803],[191.4,1166],[198.4,1797],[205.5,544]];
const dBlueMA2 = [[219.5,441],[226.6,1408]];
const dBlackMA = [[240.6,907],[247.6,1192],[255,786],[261.6,674],[268.2,976],[275.6,803],[282.3,657],[288.9,933],[297.1,821],[304.4,829],[313.3,873],[319.2,881],[325.9,821],[332.2,1000],[336.9,778],[345.8,657],[353.2,803],[359.1,881],[366,881]];

// ---------- caption ----------
const CAPTION_LINES = [
  [{ b: "FIGURE 5 " }, { r: "| Individual event analysis from all catalogue and template matched events on station CAYR that were successfully grouped into families. Red shows year" }],
  [{ r: "long LP events from families 7 and 26. Blue shows VT swarm events in June from families 0, 3, 6, 9, 10, 16, and 23. Black shows all other VT swarm families from" }],
  [{ r: "September onwards. Moving averages are calculated for windows of 7 days. " }, { b: "(A)" }, { r: " Periodicity calculated in fixed bins of 15 events, " }, { b: "(B)" }, { r: " Peak spectral frequency (Hz), " }, { b: "(C)" }],
];
const CAPTION_LAST = [{ r: ", " }, { b: "(D)" }, { r: " Absolute maximum amplitude." }];

// ---------- helpers ----------
const fromCols = (cols: any[]) => cols.flatMap(([d, vs]: any) => vs.map((v: number) => [d, v]));
const fromRows = (rows: any[]) => rows.flatMap(([v, ds]: any) => ds.map((d: number) => [d, v]));

const FONT = "DejaVu Sans";
const CAP_FONT = "Liberation Sans";

export default function App() {
  const ref = useRef<HTMLDivElement>(null);

  useEffect(() => {
    if (!ref.current) return;
    const chart = echarts.init(ref.current, undefined, { renderer: "svg" });

    const canvas = document.createElement("canvas");
    const ctx = canvas.getContext("2d");
    const measure = (text: string, bold: boolean, size: number, italic = false) => {
      if (!ctx) return text.length * size * 0.5;
      ctx.font = `${italic ? "italic " : ""}${bold ? "bold " : ""}${size}px "${CAP_FONT}"`;
      return ctx.measureText(text).width;
    };
    const segWidth = (segs: any[]) => segs.reduce((s, g) => s + measure(g.b ?? g.r, !!g.b, 16), 0);
    const rich = (segs: any[]) => segs.map((g) => (g.b ? `{b|${g.b}}` : `{r|${g.r}}`)).join("");
    const targets = [1256, 1297, 1297];
    const lineY = [985, 1010, 1034, 1059];
    const scales = CAPTION_LINES.map((segs, i) => targets[i] / segWidth(segs));
    const richStyles = {
      b: { fontWeight: "bold", fontSize: 16, fontFamily: CAP_FONT, fill: "#1a1a1a" },
      r: { fontSize: 16, fontFamily: CAP_FONT, fill: "#1a1a1a" },
    };
    const captionEls: any[] = CAPTION_LINES.map((segs, i) => ({
      type: "text", x: 25, y: lineY[i], scaleX: scales[i], silent: true,
      style: { text: rich(segs), rich: richStyles, fontSize: 16, fontFamily: CAP_FONT, fill: "#1a1a1a", verticalAlign: "middle" },
    }));
    const s0 = scales[0];
    const wQ = measure("Q", false, 16) * s0;
    const wSub = measure("ARMA", false, 11, true) * s0;
    captionEls.push(
      { type: "text", x: 25, y: lineY[3], scaleX: s0, silent: true, style: { text: "Q", fontSize: 16, fontFamily: CAP_FONT, fill: "#1a1a1a", verticalAlign: "middle" } },
      { type: "text", x: 25 + wQ, y: lineY[3] + 4, scaleX: s0, silent: true, style: { text: "ARMA", fontSize: 11, fontStyle: "italic", fontFamily: CAP_FONT, fill: "#1a1a1a", verticalAlign: "middle" } },
      { type: "text", x: 25 + wQ + wSub, y: lineY[3], scaleX: s0, silent: true, style: { text: rich(CAPTION_LAST), rich: richStyles, fontSize: 16, fontFamily: CAP_FONT, fill: "#1a1a1a", verticalAlign: "middle" } }
    );

    const legendFont = (17 * 768) / measure(SEPT, false, 17);

    const GRIDS = [
      { top: 46, height: 167 },
      { top: 248, height: 167 },
      { top: 450, height: 168 },
      { top: 652, height: 168 },
    ];
    const grid = GRIDS.map((g) => ({ left: 127, width: 1193, top: g.top, height: g.height, show: true, borderColor: "#555", borderWidth: 1, containLabel: false }));

    const xAxis = GRIDS.map((_, i) => ({
      type: "value", gridIndex: i, min: 0, max: 366,
      axisLine: { show: false },
      axisTick: { show: true, customValues: DAY_TICKS, length: 4, lineStyle: { color: "#333" } },
      axisLabel: {
        show: i === 3, customValues: DAY_TICKS, margin: 8, lineHeight: 14, fontFamily: FONT, fontSize: 15, color: "#111",
        formatter: (v: number) => MONTHS[DAY_TICKS.indexOf(Math.round(v))] ?? "",
      },
      splitLine: { show: false },
    }));

    const yDefs = [
      { max: 2, ticks: A_TICKS, fmt: (v: number) => v.toFixed(1), name: "Periodicity", gap: 34, lh: 18 },
      { max: 11.95, ticks: B_TICKS, fmt: (v: number) => v.toFixed(1), name: "Peak frequency\n(Hz)", gap: 47, lh: 18 },
      { max: 40, ticks: C_TICKS, fmt: (v: number) => String(v), name: "Q ARMA", gap: 32, lh: 18 },
      { max: 4300, ticks: D_TICKS, fmt: (v: number) => String(v), name: "Maximum\namplitude", gap: 50, lh: 11 },
    ];
    const yAxis = yDefs.map((y, i) => ({
      type: "value", gridIndex: i, min: 0, max: y.max,
      axisLine: { show: false },
      axisTick: { show: true, customValues: y.ticks, length: 4, lineStyle: { color: "#333" } },
      axisLabel: { customValues: y.ticks, formatter: y.fmt, margin: 6, lineHeight: y.lh, fontFamily: FONT, fontSize: 15, color: "#111" },
      splitLine: { show: false },
      name: y.name, nameLocation: "middle", nameGap: y.gap,
      nameTextStyle: { fontFamily: FONT, fontSize: 16, color: "#111", lineHeight: 18 },
    }));

    const RED = "#ff0000", BLUE = "#0000ff", BLACK = "#000000";
    const scat = (name: string, data: any[], color: string, idx: number, opacity = 0.3) => ({
      type: "scatter", name, data, xAxisIndex: idx, yAxisIndex: idx, symbol: "circle", symbolSize: 6,
      itemStyle: { color, opacity }, silent: true, z: 2,
    });
    const maLine = (name: string, data: any[], color: string, idx: number) => ({
      type: "line", name, data, xAxisIndex: idx, yAxisIndex: idx, symbol: "none", showSymbol: false,
      lineStyle: { color, width: 1.5 }, itemStyle: { color }, silent: true, z: 5,
    });
    const perLine = (name: string, data: any[], color: string, lineColor: string, extra: any = {}) => ({
      type: "line", name, data, xAxisIndex: 0, yAxisIndex: 0, symbol: "circle", symbolSize: 6, showSymbol: true,
      lineStyle: { color: lineColor, width: 1 }, itemStyle: { color }, silent: true, z: 3, ...extra,
    });

    const errBars = [
      ...cRed.map(([d, , lo, hi]) => [d, lo, hi]),
      ...cBlueBars,
      ...cBlackBars,
    ];

    const series: any[] = [
      // panel a
      perLine(SEPT, aBlack, BLACK, "rgba(0,0,0,0.75)"),
      perLine(JUNE, aBlue, BLUE, "rgba(0,0,255,0.75)"),
      perLine(LP, aRed, RED, "rgba(255,0,0,0.55)", {
        markLine: {
          silent: true, symbol: "none", label: { show: false },
          lineStyle: { color: "#aaa", type: "dotted", width: 1 },
          data: [{ yAxis: 1 }],
        },
      }),
      // panel b
      scat(LP, bRed, RED, 1),
      scat(JUNE, [...fromCols(bBlueCols), ...fromRows(bBlueRows), ...bBlueExtra], BLUE, 1),
      scat(SEPT, [...fromRows(bBlackRows), ...fromCols(bBlackCols), ...bBlackExtra], BLACK, 1, 0.35),
      // panel c
      {
        type: "custom", xAxisIndex: 2, yAxisIndex: 2, data: errBars, silent: true, clip: true, z: 1,
        encode: { x: 0, y: [1, 2] },
        renderItem: (params: any, api: any) => {
          const p1 = api.coord([api.value(0), api.value(1)]);
          const p2 = api.coord([api.value(0), api.value(2)]);
          return { type: "line", shape: { x1: p1[0], y1: p1[1], x2: p2[0], y2: p2[1] }, style: { stroke: "rgba(0,0,0,0.2)", lineWidth: 1 } };
        },
      },
      scat(LP, cRed.map(([d, v]) => [d, v]), RED, 2),
      scat(JUNE, fromCols(cBlueCols), BLUE, 2),
      scat(SEPT, [...fromCols(cBlackCols), ...fromCols(cBlackCore)], BLACK, 2, 0.35),
      maLine(LP, cRedMA, RED, 2),
      maLine(JUNE, cBlueMA, BLUE, 2),
      maLine(SEPT, cBlackMA, BLACK, 2),
      // panel d
      scat(LP, dRed, RED, 3),
      scat(JUNE, [...fromCols(dBlueCols), ...fromCols(dBlueCore)], BLUE, 3),
      scat(SEPT, [...fromCols(dBlackCols), ...fromCols(dBlackCore)], BLACK, 3, 0.35),
      maLine(LP, dRedMA, RED, 3),
      maLine(JUNE, dBlueMA1, BLUE, 3),
      maLine(JUNE, dBlueMA2, BLUE, 3),
      maLine(SEPT, dBlackMA, BLACK, 3),
    ];

    const panelLabels = ["a)", "b)", "c)", "d)"].map((t, i) => ({
      type: "text", x: 133, y: GRIDS[i].top + 12, silent: true, z: 10,
      style: { text: t, fontFamily: FONT, fontSize: 15, fill: "#111", verticalAlign: "middle" },
    }));

    chart.setOption({
      animation: false,
      backgroundColor: "#ffffff",
      title: {
        text: "EC.CAYR..SHZ 2016", left: 631, top: 19,
        textStyle: { fontFamily: FONT, fontSize: 17.5, fontWeight: "normal", color: "#111" },
      },
      legend: {
        orient: "vertical", left: 320, top: 862, padding: [3, 7, 7, 11], itemGap: 0,
        itemWidth: 20, itemHeight: 7, selectedMode: false,
        borderColor: "#555", borderWidth: 1, borderRadius: 0,
        textStyle: { fontFamily: CAP_FONT, fontSize: legendFont, color: "#111", lineHeight: 22 },
        data: [
          { name: LP, icon: "circle", itemStyle: { color: "#ff8c8c", opacity: 1 } },
          { name: JUNE, icon: "circle", itemStyle: { color: "#8c8cff", opacity: 1 } },
          { name: SEPT, icon: "circle", itemStyle: { color: "#8c8c8c", opacity: 1 } },
        ],
      },
      grid, xAxis, yAxis, series,
      graphic: [
        { type: "rect", silent: true, z: -1, shape: { x: 10.5, y: 8.5, width: 1341, height: 1100 }, style: { fill: "none", stroke: "#888", lineWidth: 1 } },
        ...panelLabels,
        ...captionEls,
      ],
    });

    return () => chart.dispose();
  }, []);

  return <div ref={ref} style={{ position: "absolute", left: 0, top: 0, width: 1355, height: 1076, background: "#fff" }} />;
}
